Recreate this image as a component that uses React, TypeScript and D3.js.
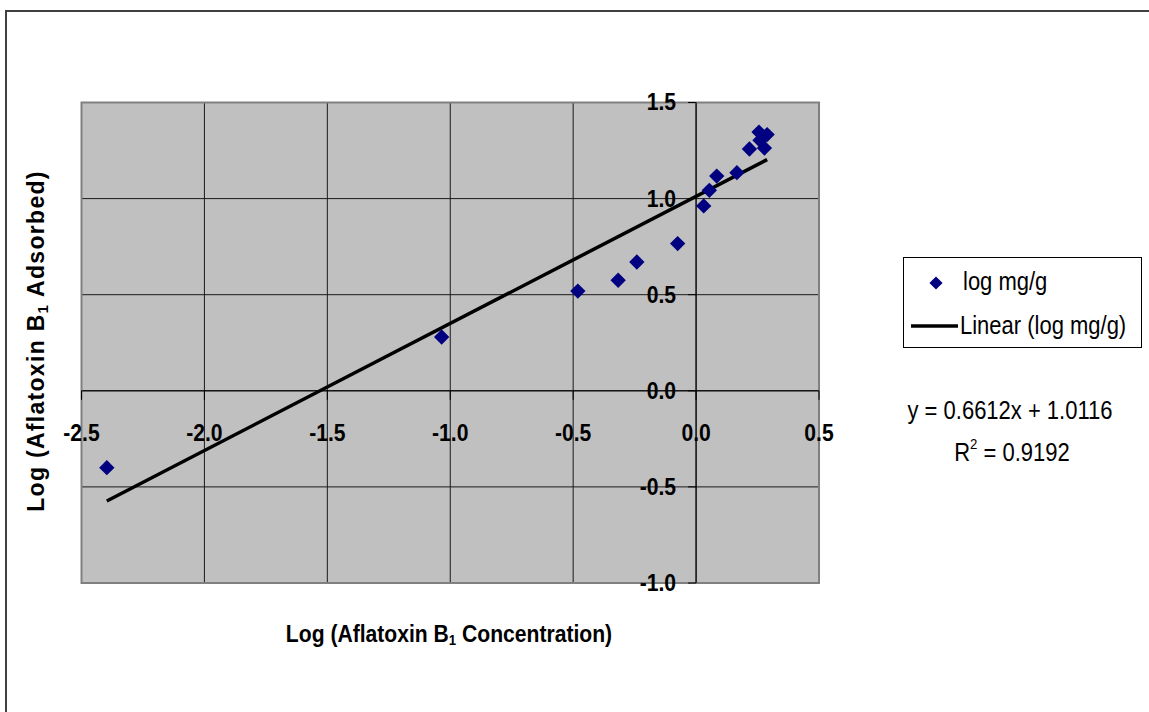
import React from 'react';
import * as d3 from 'd3';

// log concentration vs log adsorbed
const logConc = [-2.397, -1.035, -0.481, -0.317, -0.241, -0.075, 0.031, 0.054, 0.084, 0.166, 0.217, 0.278, 0.26, 0.256, 0.289];
const logAdsorbed = [-0.4, 0.28, 0.519, 0.575, 0.67, 0.766, 0.962, 1.043, 1.117, 1.135, 1.258, 1.263, 1.303, 1.346, 1.333];

const xTicks = [-2.5, -2.0, -1.5, -1.0, -0.5, 0.0, 0.5];
const yTicks = [-1.0, -0.5, 0.0, 0.5, 1.0, 1.5];

const slope = 0.6612;
const intercept = 1.0116;
const rSquared = 0.9192;

const seriesName = 'log mg/g';
const trendName = 'Linear (log mg/g)';

const FONT = '"Liberation Sans", Arial, sans-serif';

interface TProps {
  x: number;
  y: number;
  size: number;
  bold?: boolean;
  anchor?: 'start' | 'middle' | 'end';
  rotate?: number;
  sx?: number;
  spacing?: number;
  children: React.ReactNode;
}

// Excel text looks horizontally squeezed, so scale x a bit
const T: React.FC<TProps> = ({ x, y, size, bold, anchor = 'start', rotate = 0, sx = 0.88, spacing = 0, children }) => (
  <text
    transform={`translate(${x},${y}) rotate(${rotate}) scale(${sx},1)`}
    fontFamily={FONT}
    fontSize={size}
    fontWeight={bold ? 'bold' : 'normal'}
    textAnchor={anchor}
    dominantBaseline="central"
    letterSpacing={spacing}
    fill="#000"
  >
    {children}
  </text>
);

const App: React.FC = () => {
  const width = 1149;
  const height = 712;

  const x = d3.scaleLinear().domain([-2.5, 0.5]).range([81.5, 819]);
  const y = d3.scaleLinear().domain([-1.0, 1.5]).range([583, 102.5]);

  const pts = logConc.map((c, i) => ({ c, a: logAdsorbed[i] }));
  const [xmin, xmax] = d3.extent(logConc) as [number, number];
  const line = d3.line<number>()
    .x((d) => x(d))
    .y((d) => y(slope * d + intercept));

  const diamond = d3.symbol().type(d3.symbolDiamond2).size(150)();
  // plain hyphen for negatives, like the original
  const fmt = (v: number) => d3.format('.1f')(v).replace('\u2212', '-');

  const x0 = x(0);
  const y0 = y(0);

  return (
    <svg width={width} height={height} style={{ position: 'absolute', left: 0, top: 0, background: '#fff' }}>
      <rect x={6} y={11} width={1300} height={900} fill="none" stroke="#404040" strokeWidth={2} />

      {/* plot area */}
      <rect x={x(-2.5)} y={y(1.5)} width={x(0.5) - x(-2.5)} height={y(-1) - y(1.5)} fill="#c0c0c0" />
      {xTicks.map((t) => (
        <line key={'gx' + t} x1={x(t)} x2={x(t)} y1={y(1.5)} y2={y(-1)} stroke="#1a1a1a" strokeWidth={1} />
      ))}
      {yTicks.map((t) => (
        <line key={'gy' + t} x1={x(-2.5)} x2={x(0.5)} y1={y(t)} y2={y(t)} stroke="#1a1a1a" strokeWidth={1} />
      ))}
      <rect x={x(-2.5)} y={y(1.5)} width={x(0.5) - x(-2.5)} height={y(-1) - y(1.5)} fill="none" stroke="#808080" strokeWidth={2} />

      {/* axes through zero */}
      <line x1={x0} x2={x0} y1={y(1.5)} y2={y(-1)} stroke="#000" strokeWidth={1} />
      <line x1={x(-2.5)} x2={x(0.5)} y1={y0} y2={y0} stroke="#000" strokeWidth={1} />
      {yTicks.map((t) => (
        <line key={'ty' + t} x1={x0 - 8} x2={x0} y1={y(t)} y2={y(t)} stroke="#000" strokeWidth={1} />
      ))}
      {xTicks.map((t) => (
        <line key={'tx' + t} x1={x(t)} x2={x(t)} y1={y0} y2={y0 + 9} stroke="#000" strokeWidth={1} />
      ))}

      {yTicks.map((t) => (
        <T key={'ly' + t} x={x0 - 20} y={y(t)} size={24} bold anchor="end">{fmt(t)}</T>
      ))}
      {xTicks.map((t) => (
        <T key={'lx' + t} x={x(t)} y={y0 + 42} size={24} bold anchor="middle">{fmt(t)}</T>
      ))}

      {/* trend line */}
      <path d={line([xmin, xmax]) || ''} fill="none" stroke="#000" strokeWidth={3.5} />

      {/* points */}
      {pts.map((p, i) => (
        <path key={i} d={diamond || ''} transform={`translate(${x(p.c)},${y(p.a)})`} fill="#000080" />
      ))}

      {/* axis titles */}
      <T x={449} y={634} size={24} bold anchor="middle">
        Log (Aflatoxin B<tspan fontSize={15} dy={6}>1</tspan><tspan dy={-6}> Concentration)</tspan>
      </T>
      <T x={36} y={341} size={23} bold anchor="middle" rotate={-90} sx={1} spacing={1.3}>
        Log (Aflatoxin B<tspan fontSize={15} dy={6}>1</tspan><tspan dy={-6}> Adsorbed)</tspan>
      </T>

      {/* legend */}
      <rect x={903.5} y={257.5} width={238} height={90} fill="#fff" stroke="#000" strokeWidth={1} />
      <path d={d3.symbol().type(d3.symbolDiamond2).size(110)() || ''} transform="translate(936,283)" fill="#000080" />
      <T x={963} y={282} size={25}>{seriesName}</T>
      <line x1={911} x2={958} y1={326} y2={326} stroke="#000" strokeWidth={3.5} />
      <T x={960} y={326} size={25}>{trendName}</T>

      {/* equation */}
      <T x={1010} y={411} size={25} anchor="middle">
        {`y = ${slope}x + ${intercept}`}
      </T>
      <T x={1012} y={453} size={25} anchor="middle">
        R<tspan fontSize={15} dy={-9}>2</tspan><tspan dy={9}>{` = ${rSquared}`}</tspan>
      </T>
    </svg>
  );
};

export default App;
